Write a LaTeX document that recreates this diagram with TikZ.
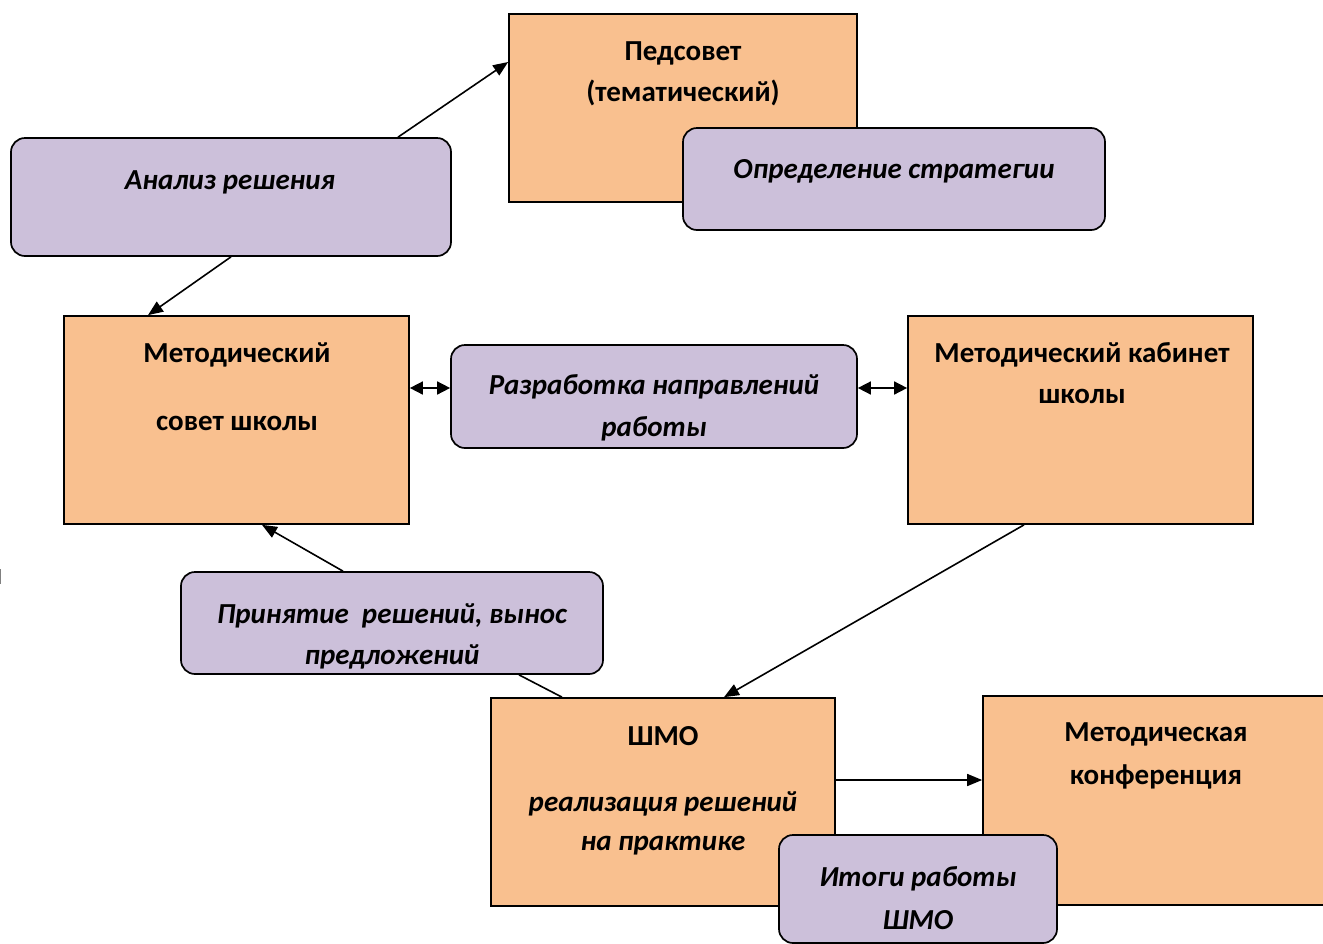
\documentclass[tikz,border=0pt]{standalone}
\usepackage{fontspec}
\setmainfont{Carlito}
\usetikzlibrary{arrows.meta}
\definecolor{peach}{HTML}{F9C08F}
\definecolor{lilac}{HTML}{CCC0DA}
\tikzset{
  orangebox/.style={draw=black, line width=1.7pt, fill=peach, rectangle, inner sep=0pt},
  purplebox/.style={draw=black, line width=1.7pt, fill=lilac, rectangle, rounded corners=14pt, inner sep=0pt},
  txt/.style={inner sep=0pt, font=\fontsize{29}{34}\selectfont\bfseries},
  itxt/.style={inner sep=0pt, font=\fontsize{29}{34}\selectfont\bfseries\itshape},
  conn/.style={line width=1.6pt, -{Triangle[length=15pt,width=12pt]}},
  dconn/.style={line width=1.6pt, {Triangle[length=13pt,width=13pt]}-{Triangle[length=13pt,width=13pt]}},
  plain/.style={line width=1.6pt}
}
\begin{document}
\begin{tikzpicture}[x=1pt,y=-1pt]
\useasboundingbox (0,0) rectangle (1323,943);
\clip (0,0) rectangle (1323,943);
% boxes
\node[orangebox, minimum width=348pt, minimum height=188pt] (ped) at (683,108) {};
\node[purplebox, minimum width=422pt, minimum height=102pt] (opr) at (894,179) {};
\node[purplebox, minimum width=440pt, minimum height=118pt] (anal) at (231,197) {};
\node[orangebox, minimum width=345pt, minimum height=208pt] (msov) at (236.5,420) {};
\node[purplebox, minimum width=406pt, minimum height=103pt] (razr) at (654,396.5) {};
\node[orangebox, minimum width=345pt, minimum height=208pt] (mkab) at (1080.5,420) {};
\node[purplebox, minimum width=422pt, minimum height=102pt] (prin) at (392,623) {};
\node[orangebox, minimum width=344pt, minimum height=208pt] (shmo) at (663,802) {};
\node[orangebox, minimum width=360pt, minimum height=209pt] (konf) at (1163,800.5) {};
\node[purplebox, minimum width=278pt, minimum height=108pt] (itog) at (918,889) {};
% texts
\node[txt] (t1) at (683,53) {Педсовет};
\node[txt] (t2) at (683,93) {(тематический)};
\node[itxt] (t3) at (894,171) {Определение стратегии};
\node[itxt] (t4) at (230,182) {Анализ решения};
\node[txt] (t5) at (237,355) {Методический};
\node[txt] (t6) at (237,423) {совет школы};
\node[itxt] (t7) at (654,387) {Разработка направлений};
\node[itxt] (t8) at (654,429) {работы};
\node[txt] (t9) at (1082,355) {Методический кабинет};
\node[txt] (t10) at (1082,396) {школы};
\node[itxt] (t11) at (392,616) {Принятие\ \ решений, вынос};
\node[itxt] (t12) at (392,657) {предложений};
\node[txt] (t13) at (663,736) {ШМО};
\node[itxt] (t14) at (663,804) {реализация решений};
\node[itxt] (t15) at (663,846) {на практике};
\node[txt] (t16) at (1156,734) {Методическая};
\node[txt] (t17) at (1156,777) {конференция};
\node[itxt] (t18) at (918,879) {Итоги работы};
\node[itxt] (t19) at (918,920) {ШМО};
% connectors
\draw[conn] (anal.north -| 398,0) -- (ped.west |- 0,62);
\draw[conn] (anal.south -| 231,0) -- (msov.north -| 148,0);
\draw[dconn] (msov.east |- 0,388) -- (razr.west |- 0,388);
\draw[dconn] (razr.east |- 0,388) -- (mkab.west |- 0,388);
\draw[conn] (mkab.south -| 1024,0) -- (shmo.north -| 724,0);
\draw[conn] (prin.north -| 343,0) -- (msov.south -| 262,0);
\draw[plain] (prin.south -| 519,0) -- (shmo.north -| 562,0);
\draw[conn] (shmo.east |- 0,780) -- (konf.west |- 0,780);
% small mark at left edge
\coordinate (m1) at (0.5,569);
\coordinate (m2) at (0.5,584);
\draw[gray, line width=1pt] (m1) -- (m2);
\end{tikzpicture}
\end{document}
